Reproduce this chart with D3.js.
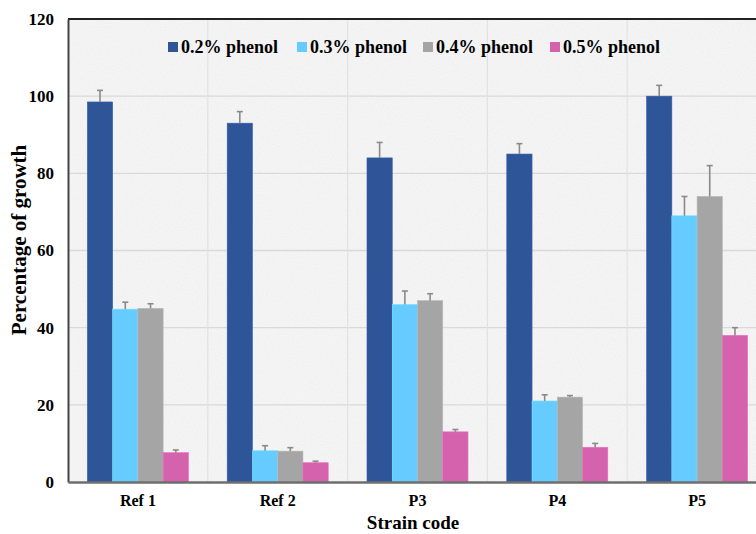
<!DOCTYPE html>
<html>
<head>
<meta charset="utf-8">
<script src="https://cdn.jsdelivr.net/npm/d3@7"></script>
<style>
  html, body { margin: 0; padding: 0; background: #ffffff; }
  svg { display: block; }
  text { font-family: "Liberation Serif", "Times New Roman", serif; font-weight: bold; fill: #000; }
</style>
</head>
<body>
<svg id="chart" width="756" height="534"></svg>
<script>
// Strains and phenol concentrations
const strains = ["Ref 1", "Ref 2", "P3", "P4", "P5"];
const seriesNames = ["0.2% phenol", "0.3% phenol", "0.4% phenol", "0.5% phenol"];
const seriesColors = ["#2e5597", "#66ccff", "#a5a5a5", "#d462ad"];

// Mean growth (%) per strain for each concentration
const phenol02 = [98.5, 93.0, 84.0, 85.0, 100.0];
const phenol03 = [44.8, 8.1, 46.0, 21.0, 69.0];
const phenol04 = [45.0, 8.0, 47.0, 22.0, 74.0];
const phenol05 = [7.6, 5.0, 13.0, 9.0, 38.0];

// Standard deviations
const err02 = [3.0, 3.0, 4.0, 2.7, 2.8];
const err03 = [1.8, 1.3, 3.5, 1.6, 5.0];
const err04 = [1.2, 0.9, 1.8, 0.4, 8.0];
const err05 = [0.7, 0.4, 0.6, 1.0, 2.0];

const yTicks = [0, 20, 40, 60, 80, 100, 120];

const values = [phenol02, phenol03, phenol04, phenol05];
const errors = [err02, err03, err04, err05];

const svg = d3.select("#chart");
const margin = { left: 68, top: 19, right: -11, bottom: 52 };
const W = 756, H = 534;
const x0 = margin.left, x1 = W - margin.right, yTop = margin.top, yBot = H - margin.bottom;

// Grain texture for plot background
const defs = svg.append("defs");
const f = defs.append("filter").attr("id", "grain").attr("x", 0).attr("y", 0).attr("width", 1).attr("height", 1);
f.append("feTurbulence").attr("type", "fractalNoise").attr("baseFrequency", 0.9).attr("numOctaves", 2).attr("seed", 3).attr("result", "n");
f.append("feColorMatrix").attr("in", "n").attr("type", "matrix")
  .attr("values", "0 0 0 0 1  0 0 0 0 1  0 0 0 0 1  0 0 0 -1.2 0.75");

const x = d3.scaleBand().domain(strains).range([x0, x1]).paddingInner(0.2775).paddingOuter(0.13875);
const xs = d3.scaleBand().domain(d3.range(seriesNames.length)).range([0, x.bandwidth()]).padding(0);
const y = d3.scaleLinear().domain([0, 120]).range([yBot, yTop]);

// Plot background
svg.append("rect").attr("x", x0).attr("y", yTop).attr("width", x1 - x0).attr("height", yBot - yTop).attr("fill", "#f1f1f1");
svg.append("rect").attr("x", x0).attr("y", yTop).attr("width", x1 - x0).attr("height", yBot - yTop).attr("filter", "url(#grain)").attr("opacity", 0.8);

// Horizontal gridlines
svg.append("g").selectAll("line").data(yTicks.filter(t => t > 0 && t < 120)).join("line")
  .attr("x1", x0).attr("x2", x1).attr("y1", d => y(d)).attr("y2", d => y(d))
  .attr("stroke", "#d9d9d9").attr("stroke-width", 1.3);

// Vertical gridlines between strain groups
const step = x.step();
svg.append("g").selectAll("line").data(strains.slice(1)).join("line")
  .attr("x1", d => x(d) - step * x.paddingInner() / 2).attr("x2", d => x(d) - step * x.paddingInner() / 2)
  .attr("y1", yTop).attr("y2", yBot)
  .attr("stroke", "#e2e2e2").attr("stroke-width", 1.2);

// Top border
svg.append("line").attr("x1", x0).attr("x2", x1).attr("y1", yTop).attr("y2", yTop)
  .attr("stroke", "#222").attr("stroke-width", 2);

// Bars
const groups = svg.append("g").selectAll("g").data(strains).join("g")
  .attr("transform", d => `translate(${x(d)},0)`);

groups.each(function(s, i) {
  const g = d3.select(this);
  seriesNames.forEach((name, k) => {
    const v = values[k][i];
    g.append("rect")
      .attr("x", xs(k)).attr("width", xs.bandwidth())
      .attr("y", y(v)).attr("height", y(0) - y(v))
      .attr("fill", seriesColors[k])
      .attr("stroke", d3.color(seriesColors[k]).brighter(0.3)).attr("stroke-width", 0.6);
  });
  seriesNames.forEach((name, k) => {
    const v = values[k][i], e = errors[k][i];
    const cx = xs(k) + xs.bandwidth() / 2;
    g.append("line").attr("x1", cx).attr("x2", cx).attr("y1", y(v)).attr("y2", y(v + e))
      .attr("stroke", "#8a8a8a").attr("stroke-width", 1.6);
    g.append("line").attr("x1", cx - 3).attr("x2", cx + 3).attr("y1", y(v + e)).attr("y2", y(v + e))
      .attr("stroke", "#8a8a8a").attr("stroke-width", 1.6);
  });
});

// Axes
const yAxis = svg.append("g").attr("transform", `translate(${x0},0)`)
  .call(d3.axisLeft(y).tickValues(yTicks).tickSize(0).tickPadding(14));
yAxis.select(".domain").attr("stroke", "#444").attr("stroke-width", 2);
yAxis.selectAll("text").style("font-size", "17px").style("font-family", "Liberation Serif, serif").style("font-weight", "bold").attr("fill", "#000");

const xAxis = svg.append("g").attr("transform", `translate(0,${yBot})`)
  .call(d3.axisBottom(x).tickSize(0).tickPadding(13));
xAxis.select(".domain").attr("stroke", "#6e6e6e").attr("stroke-width", 2.5);
xAxis.selectAll("text").style("font-size", "16px").style("font-family", "Liberation Serif, serif").style("font-weight", "bold").attr("fill", "#000");

// Axis titles
svg.append("text").attr("x", 413).attr("y", 529).attr("text-anchor", "middle")
  .style("font-size", "19px").text("Strain code");
svg.append("text").attr("transform", "translate(26,240) rotate(-90)").attr("text-anchor", "middle")
  .style("font-size", "21px").text("Percentage of growth");

// Legend
const legendX = [168, 297, 423, 550];
const legend = svg.append("g").selectAll("g").data(seriesNames).join("g")
  .attr("transform", (d, i) => `translate(${legendX[i]},47)`);
legend.append("rect").attr("x", 0).attr("y", -5).attr("width", 10).attr("height", 10)
  .attr("fill", (d, i) => seriesColors[i]);
legend.append("text").attr("x", 13).attr("y", 6).style("font-size", "18px").text(d => d);
</script>
</body>
</html>
